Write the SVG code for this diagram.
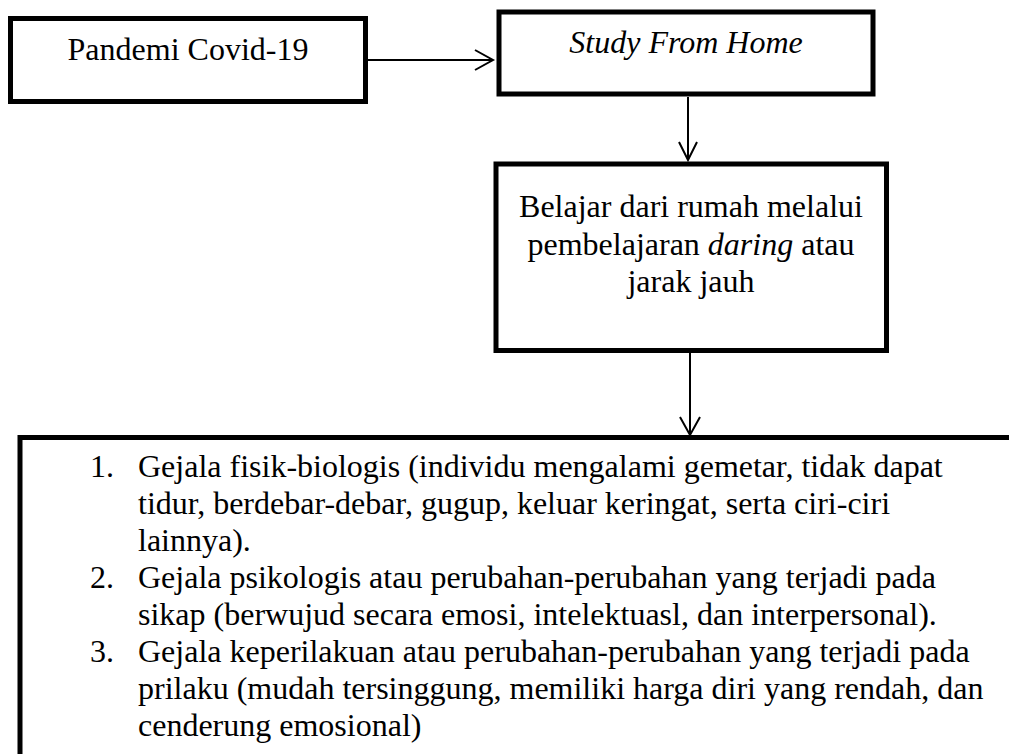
<svg xmlns="http://www.w3.org/2000/svg" width="1009" height="754" viewBox="0 0 1009 754">
<style>
.box{fill:#fff;stroke:#000;stroke-width:5}
.t{font-family:'Liberation Serif',Tinos,'Times New Roman',Times,'Nimbus Roman','DejaVu Serif',serif;font-size:32px;fill:#000}
.c{text-anchor:middle}
.i{font-style:italic}
.ln{stroke:#000;stroke-width:2;fill:none}
</style>
<rect width="1009" height="754" fill="#fff"/>
<g id="node-pandemi">
<rect class="box" x="10.5" y="18.5" width="355" height="83"/>
<text class="t c" x="188" y="60">Pandemi Covid-19</text>
</g>
<g id="node-sfh">
<rect class="box" x="499" y="12" width="374" height="82"/>
<text class="t c i" x="686" y="53">Study From Home</text>
</g>
<g id="node-belajar">
<rect class="box" x="496" y="164" width="390.5" height="186.5"/>
<text class="t c" x="691" y="217">Belajar dari rumah melalui</text>
<text class="t c" x="691" y="255">pembelajaran <tspan class="i">daring</tspan> atau</text>
<text class="t c" x="691" y="292">jarak jauh</text>
</g>
<g id="node-gejala">
<rect class="box" x="20" y="437.5" width="1100" height="400"/>
<text class="t" x="90" y="477">1.</text>
<text class="t" x="138" y="477">Gejala fisik-biologis (individu mengalami gemetar, tidak dapat</text>
<text class="t" x="138" y="514">tidur, berdebar-debar, gugup, keluar keringat, serta ciri-ciri</text>
<text class="t" x="138" y="551">lainnya).</text>
<text class="t" x="90" y="588">2.</text>
<text class="t" x="138" y="588">Gejala psikologis atau perubahan-perubahan yang terjadi pada</text>
<text class="t" x="138" y="625">sikap (berwujud secara emosi, intelektuasl, dan interpersonal).</text>
<text class="t" x="90" y="662">3.</text>
<text class="t" x="138" y="662">Gejala keperilakuan atau perubahan-perubahan yang terjadi pada</text>
<text class="t" x="138" y="699">prilaku (mudah tersinggung, memiliki harga diri yang rendah, dan</text>
<text class="t" x="138" y="736">cenderung emosional)</text>
</g>
<g id="connectors">
<line class="ln" x1="368" y1="60" x2="493" y2="60"/>
<polyline class="ln" points="475,50 493,60 475,70"/>
<line class="ln" x1="688" y1="97" x2="688" y2="160"/>
<polyline class="ln" points="679,142 688,160 697,142"/>
<line class="ln" x1="690" y1="353" x2="690" y2="435"/>
<polyline class="ln" points="680,417 690,435 700,417"/>
</g>
</svg>
